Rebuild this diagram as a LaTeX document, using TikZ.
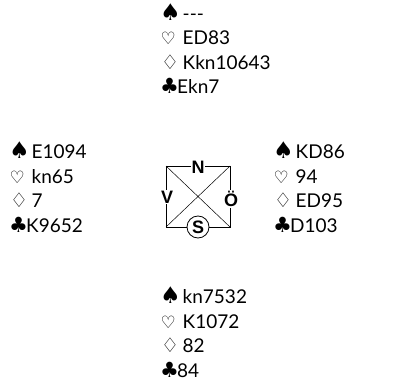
\documentclass[tikz,border=0pt]{standalone}
\usepackage{fontspec}
\setmainfont{Lato}
\newfontfamily\symf{DejaVu Sans}
\newfontfamily\labf{Liberation Sans Bold}
\begin{document}
\begin{tikzpicture}[x=1pt,y=-1pt,
  hand/.style={anchor=west,align=left,font=\fontsize{19}{24.5}\selectfont,inner sep=0pt},
  dir/.style={fill=white,inner sep=0.8pt,font=\fontsize{18}{18}\selectfont\labf},
  box/.style={draw,line width=0.9pt}]
\useasboundingbox (0,0) rectangle (393,382);
\newcommand{\Sp}{\makebox[22.5pt][l]{\symf\fontsize{23}{23}\selectfont\char"2660}}
\newcommand{\He}{\makebox[22.5pt][l]{\hspace{0.5pt}\symf\fontsize{17}{17}\selectfont\char"2661}}
\newcommand{\Di}{\makebox[22.5pt][l]{\hspace{1pt}\symf\fontsize{20}{20}\selectfont\char"2662}}
\newcommand{\Cl}{\makebox[17pt][l]{\symf\fontsize{21}{21}\selectfont\char"2663}}
\node[hand] (north) at (160,48.5) {\Sp-{}-{}-\\ \He ED83\\ \Di Kkn10643\\ \Cl Ekn7};
\node[hand] (west) at (9,187) {\Sp E1094\\ \He kn65\\ \Di 7\\ \Cl K9652};
\node[hand] (east) at (273,187) {\Sp KD86\\ \He 94\\ \Di ED95\\ \Cl D103};
\node[hand] (south) at (160,332) {\Sp kn7532\\ \He K1072\\ \Di 82\\ \Cl 84};
\coordinate (tl) at (166,166);
\coordinate (tr) at (230,166);
\coordinate (bl) at (166,227);
\coordinate (br) at (230,227);
\draw[box] (tl) rectangle (br);
\draw[line width=0.5pt] (tl) -- (br) (tr) -- (bl);
\node[dir] (n) at (198,167) {N};
\node[dir] (v) at (167,197) {V};
\node[dir] (o) at (231,199) {Ö};
\node[dir,circle,draw,line width=0.8pt,inner sep=0pt,minimum size=22pt] (s) at (198,227) {S};
\end{tikzpicture}
\end{document}
